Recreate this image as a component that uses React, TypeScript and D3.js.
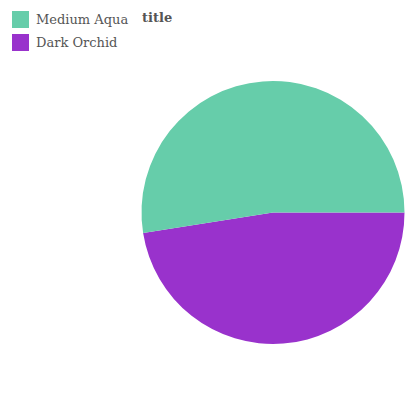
import { useEffect, useRef } from 'react'
import * as d3 from 'd3'

const categories = ['Medium Aqua', 'Dark Orchid']
const values = [52.5, 47.5]
const colors = ['#66CDAA', '#9932CC']

export default function App() {
  const svgRef = useRef<SVGSVGElement>(null)
  const width = 415
  const height = 400

  useEffect(() => {
    const svg = d3.select(svgRef.current)
    svg.selectAll('*').remove()

    const cx = 273
    const cy = 212.5
    const radius = 131.5

    const data = categories.map((c, i) => ({ name: c, value: values[i], color: colors[i] }))

    // Dark Orchid goes clockwise from 3 o'clock, Medium Aqua fills the rest
    const pie = d3.pie<any>()
      .sort(null)
      .value(d => d.value)
      .startAngle(Math.PI / 2)
      .endAngle(Math.PI / 2 + 2 * Math.PI)

    const arc = d3.arc<any>().innerRadius(0).outerRadius(radius)

    const g = svg.append('g').attr('transform', `translate(${cx},${cy})`)
    g.selectAll('path')
      .data(pie([data[1], data[0]]))
      .join('path')
      .attr('d', arc)
      .attr('fill', d => d.data.color)

    // Legend
    const legend = svg.append('g')
    data.forEach((d, i) => {
      const row = legend.append('g').attr('transform', `translate(12,${11 + i * 23})`)
      row.append('rect').attr('width', 17).attr('height', 17).attr('fill', d.color)
      row.append('text')
        .attr('x', 24)
        .attr('y', 13)
        .style('font-family', 'DejaVu Serif, serif')
        .style('font-size', '13px')
        .style('fill', '#555')
        .text(d.name)
    })

    svg.append('text')
      .attr('x', 142)
      .attr('y', 22)
      .style('font-family', 'DejaVu Serif, serif')
      .style('font-size', '13px')
      .style('font-weight', 'bold')
      .style('fill', '#555')
      .text('title')
  }, [])

  return (
    <svg
      ref={svgRef}
      width={width}
      height={height}
      style={{ position: 'absolute', left: 0, top: 0 }}
    />
  )
}
